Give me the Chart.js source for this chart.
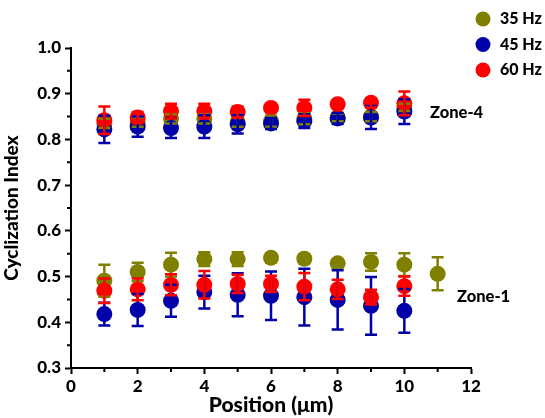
<!DOCTYPE html>
<html>
<head>
<meta charset="utf-8">
<script src="https://cdn.jsdelivr.net/npm/chart.js@4"></script>
<style>
  html, body { margin: 0; padding: 0; background: #fff; }
</style>
</head>
<body>
<canvas id="chart" width="545" height="418"></canvas>
<script>
/* ============================================
   DATA
   ============================================ */
const positions = [1, 2, 3, 4, 5, 6, 7, 8, 9, 10];
const positions35Zone1 = [1, 2, 3, 4, 5, 6, 7, 8, 9, 10, 11];

// Zone-4 (upper cluster)
const hz35Zone4 = [0.835, 0.838, 0.845, 0.845, 0.838, 0.840, 0.845, 0.848, 0.850, 0.870];
const hz35Zone4Err = [0.010, 0.010, 0.010, 0.010, 0.010, 0.012, 0.012, 0.008, 0.010, 0.008];
const hz45Zone4 = [0.822, 0.828, 0.825, 0.828, 0.833, 0.835, 0.840, 0.846, 0.848, 0.861];
const hz45Zone4Err = [0.030, 0.022, 0.022, 0.025, 0.020, 0.012, 0.015, 0.012, 0.025, 0.027];
const hz60Zone4 = [0.842, 0.848, 0.862, 0.862, 0.860, 0.869, 0.869, 0.877, 0.880, 0.879];
const hz60Zone4Err = [0.030, 0.012, 0.016, 0.016, 0.012, 0.005, 0.018, 0.005, 0.010, 0.026];

// Zone-1 (lower cluster)
const hz35Zone1 = [0.491, 0.510, 0.526, 0.538, 0.538, 0.541, 0.539, 0.529, 0.532, 0.526, 0.506];
const hz35Zone1Err = [0.035, 0.020, 0.026, 0.015, 0.015, 0.010, 0.010, 0.008, 0.019, 0.025, 0.036];
const hz45Zone1 = [0.418, 0.427, 0.447, 0.466, 0.460, 0.458, 0.455, 0.449, 0.436, 0.425];
const hz45Zone1Err = [0.025, 0.035, 0.035, 0.036, 0.047, 0.053, 0.062, 0.065, 0.063, 0.048];
const hz60Zone1 = [0.469, 0.472, 0.482, 0.482, 0.484, 0.484, 0.478, 0.472, 0.455, 0.479];
const hz60Zone1Err = [0.027, 0.024, 0.023, 0.030, 0.020, 0.018, 0.030, 0.021, 0.016, 0.021];

const seriesLabels = ['35 Hz', '45 Hz', '60 Hz'];
const seriesColors = ['#808000', '#0000a8', '#ff0000'];

const xTicks = [0, 2, 4, 6, 8, 10, 12];
const yTicks = [0.3, 0.4, 0.5, 0.6, 0.7, 0.8, 0.9, 1.0];

const FONT = "Lato, 'Open Sans', sans-serif";
const WEIGHT = '900';

// Build points for one frequency from both zones
function makePoints(xs1, ys1, xs2, ys2) {
    const pts = [];
    xs1.forEach((x, i) => pts.push({ x: x, y: ys1[i] }));
    xs2.forEach((x, i) => pts.push({ x: x, y: ys2[i] }));
    return pts;
}

function makeDataset(idx, points, errors, order) {
    return {
        label: seriesLabels[idx],
        data: points,
        errors: errors,
        backgroundColor: seriesColors[idx],
        borderColor: seriesColors[idx],
        borderWidth: 0,
        pointRadius: 8,
        pointHoverRadius: 8,
        showLine: false,
        order: order
    };
}

const datasets = [
    makeDataset(0, makePoints(positions, hz35Zone4, positions35Zone1, hz35Zone1),
        hz35Zone4Err.concat(hz35Zone1Err), 3),
    makeDataset(1, makePoints(positions, hz45Zone4, positions, hz45Zone1),
        hz45Zone4Err.concat(hz45Zone1Err), 2),
    makeDataset(2, makePoints(positions, hz60Zone4, positions, hz60Zone1),
        hz60Zone4Err.concat(hz60Zone1Err), 1)
];

/* ============================================
   PLUGINS: error bars, minor ticks, legend, labels
   ============================================ */
const errorBars = {
    id: 'errorBars',
    afterDatasetsDraw(chart) {
        const ctx = chart.ctx;
        const yScale = chart.scales.y;
        chart.data.datasets.forEach((ds, di) => {
            const meta = chart.getDatasetMeta(di);
            ctx.save();
            ctx.strokeStyle = ds.borderColor;
            ctx.lineWidth = 2.5;
            meta.data.forEach((pt, i) => {
                const v = ds.data[i].y;
                const e = ds.errors[i];
                const yTop = yScale.getPixelForValue(v + e);
                const yBot = yScale.getPixelForValue(v - e);
                ctx.beginPath();
                ctx.moveTo(pt.x, yTop);
                ctx.lineTo(pt.x, yBot);
                ctx.moveTo(pt.x - 6, yTop);
                ctx.lineTo(pt.x + 6, yTop);
                ctx.moveTo(pt.x - 6, yBot);
                ctx.lineTo(pt.x + 6, yBot);
                ctx.stroke();
            });
            ctx.restore();
        });
    }
};

const extras = {
    id: 'extras',
    afterDraw(chart) {
        const ctx = chart.ctx;
        const xs = chart.scales.x;
        const ys = chart.scales.y;
        const area = chart.chartArea;
        ctx.save();

        // Minor ticks
        ctx.strokeStyle = '#000';
        ctx.lineWidth = 2;
        ctx.beginPath();
        for (let v = 0.35; v < 1.0; v += 0.1) {
            const py = ys.getPixelForValue(v);
            ctx.moveTo(area.left, py);
            ctx.lineTo(area.left - 4, py);
        }
        for (let v = 1; v < 12; v += 2) {
            const px = xs.getPixelForValue(v);
            ctx.moveTo(px, area.bottom);
            ctx.lineTo(px, area.bottom + 4);
        }
        ctx.stroke();

        // Legend
        ctx.font = WEIGHT + ' 16px ' + FONT;
        ctx.textBaseline = 'middle';
        ctx.textAlign = 'left';
        seriesLabels.forEach((label, i) => {
            const cy = 19 + i * 25.5;
            ctx.fillStyle = seriesColors[i];
            ctx.beginPath();
            ctx.arc(483, cy, 7.5, 0, Math.PI * 2);
            ctx.fill();
            ctx.fillStyle = '#000';
            ctx.fillText(label, 500, cy);
        });

        // Zone labels
        ctx.font = WEIGHT + ' 16.5px ' + FONT;
        ctx.fillStyle = '#000';
        ctx.fillText('Zone-4', xs.getPixelForValue(10.77), ys.getPixelForValue(0.858));
        ctx.fillText('Zone-1', xs.getPixelForValue(11.58), ys.getPixelForValue(0.455));
        ctx.restore();
    }
};

/* ============================================
   CHART
   ============================================ */
new Chart(document.getElementById('chart'), {
    type: 'scatter',
    data: { datasets: datasets },
    options: {
        responsive: false,
        animation: false,
        layout: { padding: { top: 48, right: 74, left: 0, bottom: 0 } },
        plugins: {
            legend: { display: false },
            tooltip: { enabled: false }
        },
        scales: {
            x: {
                type: 'linear',
                min: 0,
                max: 12,
                afterFit: (scale) => { scale.height = 50; },
                afterBuildTicks: (scale) => { scale.ticks = xTicks.map(v => ({ value: v })); },
                ticks: {
                    color: '#000',
                    font: { family: FONT, size: 17, weight: WEIGHT },
                    padding: 2,
                    callback: (v) => String(v)
                },
                border: { color: '#000', width: 2 },
                grid: { drawOnChartArea: false, tickLength: 6, tickWidth: 2, tickColor: '#000' },
                title: {
                    display: true,
                    text: 'Position (μm)',
                    color: '#000',
                    font: { family: FONT, size: 21, weight: WEIGHT },
                    padding: { top: 0, bottom: 0 }
                }
            },
            y: {
                type: 'linear',
                min: 0.3,
                max: 1.0,
                afterFit: (scale) => { scale.width = 71; },
                afterBuildTicks: (scale) => { scale.ticks = yTicks.map(v => ({ value: v })); },
                ticks: {
                    color: '#000',
                    font: { family: FONT, size: 17, weight: WEIGHT },
                    padding: 4,
                    callback: (v) => Number(v).toFixed(1)
                },
                border: { color: '#000', width: 2 },
                grid: { drawOnChartArea: false, tickLength: 6, tickWidth: 2, tickColor: '#000' },
                title: {
                    display: true,
                    text: 'Cyclization Index',
                    color: '#000',
                    font: { family: FONT, size: 19, weight: WEIGHT },
                    padding: { top: 0, bottom: 0 }
                }
            }
        }
    },
    plugins: [errorBars, extras]
});
</script>
</body>
</html>
